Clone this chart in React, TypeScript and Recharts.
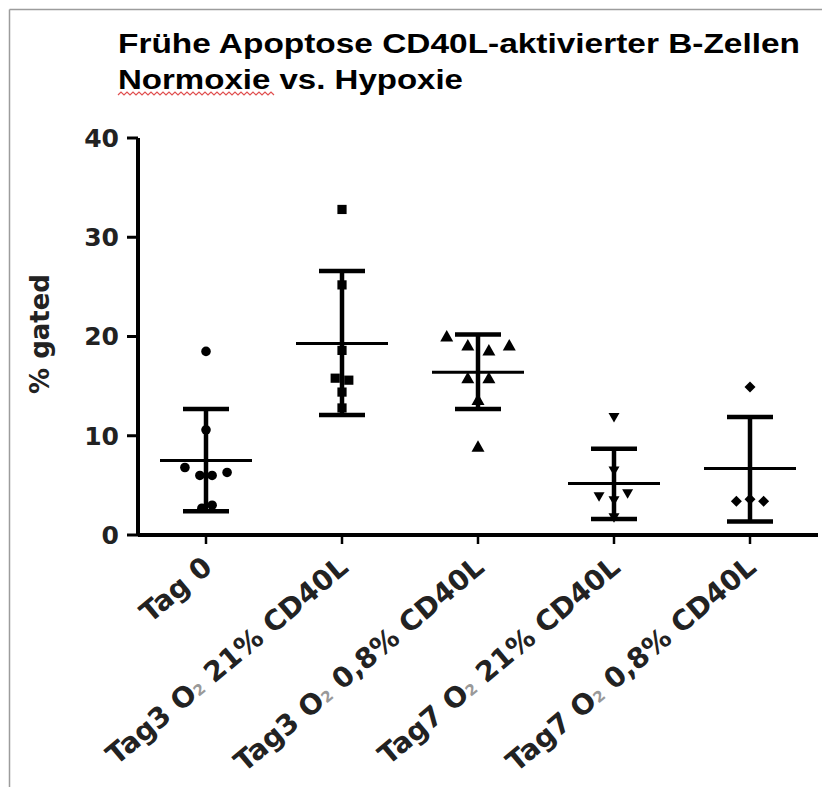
import React from "react";
import { ComposedChart, Scatter, XAxis, YAxis, ErrorBar } from "recharts";

const categories = [
  "Tag 0",
  "Tag3 O₂ 21% CD40L",
  "Tag3 O₂ 0,8% CD40L",
  "Tag7 O₂ 21% CD40L",
  "Tag7 O₂ 0,8% CD40L",
];
const yTicks = [0, 10, 20, 30, 40];

// single donors per group (% gated) and their sideways spread in category units
const tag0Values = [18.5, 10.6, 6.8, 6.0, 6.0, 6.3, 3.0, 2.7];
const tag0Spread = [0, 0, -0.155, -0.045, 0.045, 0.155, 0.045, -0.03];
const tag3NormValues = [32.8, 25.2, 18.6, 15.8, 15.6, 14.4, 12.8];
const tag3NormSpread = [0, 0, 0, -0.05, 0.05, 0, 0];
const tag3HypValues = [20.0, 19.1, 18.6, 19.1, 15.8, 15.8, 13.6, 8.9];
const tag3HypSpread = [-0.23, -0.075, 0.08, 0.23, -0.075, 0.08, 0, 0];
const tag7NormValues = [11.9, 6.5, 3.9, 4.2, 3.5, 1.8];
const tag7NormSpread = [0, 0, -0.11, 0.1, 0, 0];
const tag7HypValues = [14.9, 3.4, 3.4, 3.6];
const tag7HypSpread = [0, -0.1, 0.1, 0];

// mean +/- SD per group
const groupMeans = [7.5, 19.3, 16.4, 5.2, 6.7];
const groupUpper = [12.7, 26.6, 20.2, 8.7, 11.9];
const groupLower = [2.4, 12.1, 12.7, 1.6, 1.35];

const FONT = "'DejaVu Sans', Verdana, sans-serif";

const toPoints = (values: number[], spread: number[], group: number) =>
  values.map((v, i) => ({ x: group + 0.5 + spread[i], y: v }));

const summary = groupMeans.map((m, i) => ({
  x: i + 0.5,
  y: m,
  err: [m - groupLower[i], groupUpper[i] - m],
}));

const Circle = (p: any) => <circle cx={p.cx} cy={p.cy} r={4.8} fill="#000" />;
const Square = (p: any) => (
  <rect x={p.cx - 4.6} y={p.cy - 4.6} width={9.2} height={9.2} fill="#000" />
);
const TriUp = (p: any) => (
  <path d={`M${p.cx},${p.cy - 6.5} L${p.cx + 6.5},${p.cy + 5} L${p.cx - 6.5},${p.cy + 5} Z`} fill="#000" />
);
const TriDown = (p: any) => (
  <path d={`M${p.cx},${p.cy + 5.5} L${p.cx + 5.5},${p.cy - 4} L${p.cx - 5.5},${p.cy - 4} Z`} fill="#000" />
);
const Diamond = (p: any) => (
  <path d={`M${p.cx},${p.cy - 5.5} L${p.cx + 5.5},${p.cy} L${p.cx},${p.cy + 5.5} L${p.cx - 5.5},${p.cy} Z`} fill="#000" />
);
const MeanLine = (p: any) => (
  <line x1={p.cx - 46} x2={p.cx + 46} y1={p.cy} y2={p.cy} stroke="#000" strokeWidth={3} />
);

const XTick = (props: any) => {
  const { x, y, payload } = props;
  const label = categories[Math.round(payload.value - 0.5)] ?? "";
  const [pre, post] = label.split("₂");
  const ax = x + 8;
  const ay = y + 24;
  return (
    <text
      x={ax}
      y={ay}
      transform={`rotate(-40, ${ax}, ${ay})`}
      textAnchor="end"
      fontFamily={FONT}
      fontWeight="bold"
      fontSize={28}
      fill="#222"
    >
      {pre}
      {post !== undefined && (
        <>
          <tspan fontSize={15} fill="#999">2</tspan>
          <tspan>{post}</tspan>
        </>
      )}
    </text>
  );
};

// red spell-check squiggle under the second title line
const squiggle = (() => {
  const pts: string[] = [];
  for (let i = 0, xx = 118; xx <= 276; i++, xx += 3) pts.push(`${xx},${i % 2 ? 92 : 95}`);
  return pts.join(" ");
})();

export default function App() {
  return (
    <div style={{ position: "absolute", left: 0, top: 0, width: 822, height: 787, background: "#fff" }}>
      <ComposedChart width={822} height={787} margin={{ top: 138, right: 4, bottom: 0, left: 0 }}>
        <XAxis
          type="number"
          dataKey="x"
          domain={[0, 5]}
          ticks={[0.5, 1.5, 2.5, 3.5, 4.5]}
          interval={0}
          height={252}
          tick={<XTick />}
          tickSize={9}
          tickLine={{ stroke: "#000", strokeWidth: 2.5 }}
          axisLine={{ stroke: "#000", strokeWidth: 4 }}
        />
        <YAxis
          type="number"
          dataKey="y"
          domain={[0, 40]}
          ticks={yTicks}
          interval={0}
          width={138}
          tickSize={11}
          tickMargin={8}
          tick={{ fontFamily: FONT, fontWeight: "bold", fontSize: 25, fill: "#222" }}
          tickLine={{ stroke: "#000", strokeWidth: 3 }}
          axisLine={{ stroke: "#000", strokeWidth: 4 }}
        />
        <Scatter data={toPoints(tag0Values, tag0Spread, 0)} shape={Circle} isAnimationActive={false} />
        <Scatter data={toPoints(tag3NormValues, tag3NormSpread, 1)} shape={Square} isAnimationActive={false} />
        <Scatter data={toPoints(tag3HypValues, tag3HypSpread, 2)} shape={TriUp} isAnimationActive={false} />
        <Scatter data={toPoints(tag7NormValues, tag7NormSpread, 3)} shape={TriDown} isAnimationActive={false} />
        <Scatter data={toPoints(tag7HypValues, tag7HypSpread, 4)} shape={Diamond} isAnimationActive={false} />
        <Scatter data={summary} shape={MeanLine} isAnimationActive={false}>
          <ErrorBar dataKey="err" direction="y" width={23} stroke="#000" strokeWidth={4.5} isAnimationActive={false} />
        </Scatter>
      </ComposedChart>
      <svg
        width={822}
        height={787}
        style={{ position: "absolute", left: 0, top: 0, pointerEvents: "none" }}
      >
        <line x1={9.5} y1={9.5} x2={822} y2={9.5} stroke="#9c9c9c" strokeWidth={1.5} />
        <line x1={9.5} y1={9.5} x2={9.5} y2={787} stroke="#9c9c9c" strokeWidth={1.5} />
        <text
          x={118}
          y={53}
          fontFamily="'Liberation Sans Narrow', 'Liberation Sans', Arial, sans-serif"
          fontWeight="bold"
          fontSize={28}
          textLength={682}
          lengthAdjust="spacingAndGlyphs"
          fill="#000"
        >
          Frühe Apoptose CD40L-aktivierter B-Zellen
        </text>
        <text
          x={118}
          y={89}
          fontFamily="'Liberation Sans Narrow', 'Liberation Sans', Arial, sans-serif"
          fontWeight="bold"
          fontSize={28}
          textLength={345}
          lengthAdjust="spacingAndGlyphs"
          fill="#000"
        >
          Normoxie vs. Hypoxie
        </text>
        <polyline points={squiggle} fill="none" stroke="#e05050" strokeWidth={1.2} />
        <text
          x={49}
          y={334}
          transform="rotate(-90, 49, 334)"
          textAnchor="middle"
          fontFamily={FONT}
          fontWeight="bold"
          fontSize={26}
          fill="#222"
        >
          % gated
        </text>
      </svg>
    </div>
  );
}
